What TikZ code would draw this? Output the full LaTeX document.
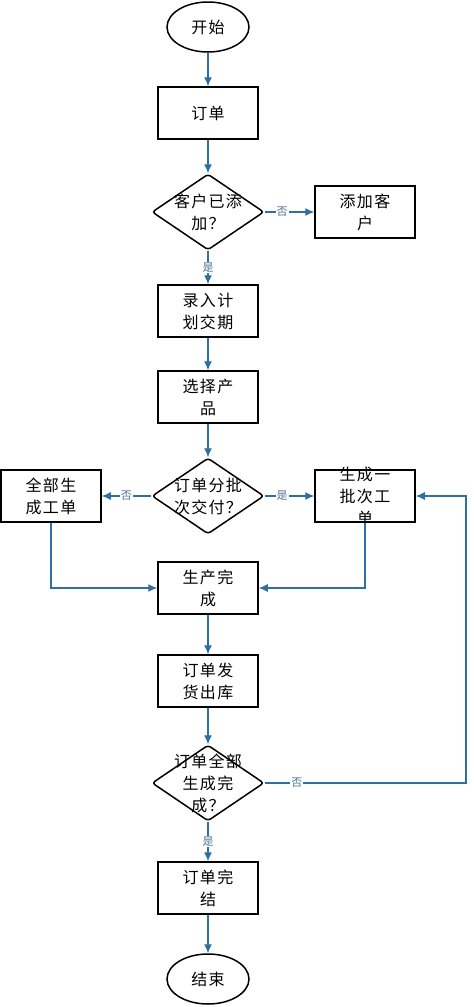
\documentclass[tikz,border=0pt]{standalone}
\usepackage{fontspec}
\setmainfont[LetterSpace=8]{Noto Sans CJK SC}
\usepackage{xcolor}
\usetikzlibrary{arrows,arrows.meta,shapes.geometric}

\definecolor{flowblue}{RGB}{46,112,163}
\definecolor{ynblue}{RGB}{80,115,150}

\begin{document}
\begin{tikzpicture}[x=1pt,y=-1pt]
\tikzset{every label/.style={align=center,font=\fontsize{16}{22}\selectfont}}
\tikzset{term/.style={draw,line width=1.5pt,ellipse,minimum width=82pt,minimum height=50pt,inner sep=0pt}}
\tikzset{proc/.style={draw,line width=1.5pt,rectangle,minimum width=100pt,minimum height=52pt,inner sep=0pt}}
\tikzset{ask/.style={draw,line width=1.5pt,diamond,rounded corners=3pt,minimum width=112pt,minimum height=76pt,inner sep=0pt}}
\tikzset{flow/.style={-{Latex[length=9pt,width=8pt]},flowblue,line width=1.2pt}}
\tikzset{yn/.style={fill=white,text=ynblue,font=\fontsize{11}{13}\selectfont,inner sep=1pt}}

\useasboundingbox (0,0) rectangle (474,1007);

\node[term, label=center:开始] (start) at (208,27) {};
\node[proc, label=center:订单] (order) at (208,113) {};
\node[ask, label=center:{客户已添\\加？}] (addq) at (208,212) {};
\node[proc, label=center:{添加客\\户}] (addc) at (365,212) {};
\node[proc, label=center:{录入计\\划交期}] (plan) at (208,311) {};
\node[proc, label=center:{选择产\\品}] (prod) at (208,397) {};
\node[ask, label=center:{订单分批\\次交付？}] (batchq) at (208,496) {};
\node[proc, label=center:{全部生\\成工单}] (allwo) at (51,496) {};
\node[proc, label=center:{生成一\\批次工\\单}] (onewo) at (365,496) {};
\node[proc, label=center:{生产完\\成}] (done) at (208,588) {};
\node[proc, label=center:{订单发\\货出库}] (ship) at (208,681) {};
\node[ask, label=center:{订单全部\\生成完\\成？}] (allq) at (208,783) {};
\node[proc, label=center:{订单完\\结}] (close) at (208,888) {};
\node[term, label=center:结束] (stop) at (208,979) {};
\coordinate (back) at (466,783);

\draw[flow] (start) -- (order);
\draw[flow] (order) -- (addq);
\draw[flow] (addq) -- node[yn,pos=0.35]{否} (addc);
\draw[flow] (addq) -- node[yn]{是} (plan);
\draw[flow] (plan) -- (prod);
\draw[flow] (prod) -- (batchq);
\draw[flow] (batchq) -- node[yn]{否} (allwo);
\draw[flow] (batchq) -- node[yn,pos=0.35]{是} (onewo);
\draw[flow] (allwo) |- (done);
\draw[flow] (onewo) |- (done);
\draw[flow] (done) -- (ship);
\draw[flow] (ship) -- (allq);
\draw[flow] (allq) -- node[yn,pos=0.16]{否} (back) |- (onewo);
\draw[flow] (allq) -- node[yn]{是} (close);
\draw[flow] (close) -- (stop);

\end{tikzpicture}
\end{document}
